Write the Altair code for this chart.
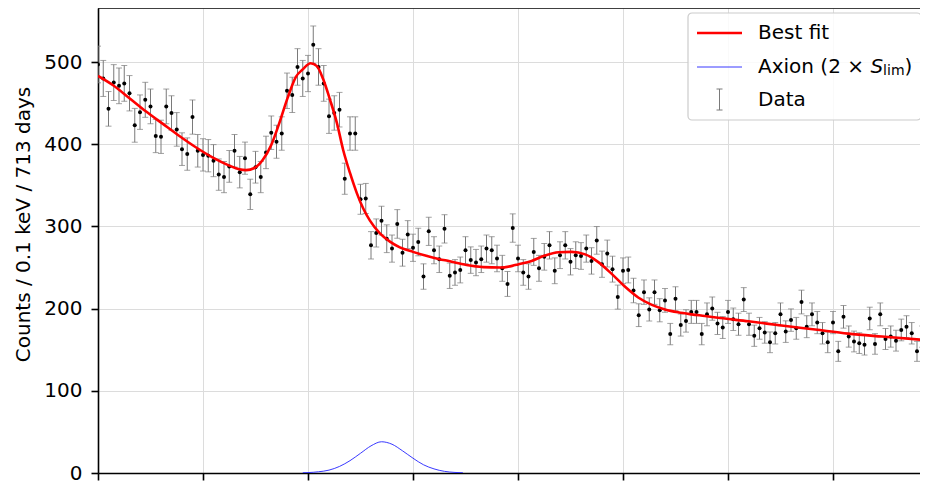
import altair as alt
import pandas as pd

# ---------------- data ----------------
energy_start = 4.0   # keV, first bin centre
bin_width = 0.1      # keV
counts = [
    497, 480, 443, 475, 471, 474, 462, 423, 439, 454,   # 4.0 - 4.9
    446, 410, 409, 446, 438, 418, 394, 388, 433, 392,   # 5.0 - 5.9
    387, 386, 380, 363, 360, 373, 392, 366, 383, 339,   # 6.0 - 6.9
    372, 360, 390, 414, 403, 413, 465, 460, 494, 480,   # 7.0 - 7.9
    486, 521, 494, 474, 434, 438, 442, 358, 413, 413,   # 8.0 - 8.9
    333, 334, 277, 292, 307, 285, 273, 303, 268, 290,   # 9.0 - 9.9
    274, 281, 239, 294, 271, 260, 297, 240, 244, 247,   # 10.0 - 10.9
    271, 259, 256, 260, 273, 271, 261, 249, 230, 298,   # 11.0 - 11.9
    261, 244, 239, 269, 249, 263, 277, 246, 265, 277,   # 12.0 - 12.9
    257, 265, 264, 273, 258, 283, 254, 267, 248, 214,   # 13.0 - 13.9
    246, 247, 222, 192, 220, 199, 220, 198, 210, 169,   # 14.0 - 14.9
    212, 180, 185, 196, 196, 169, 193, 200, 182, 177,   # 15.0 - 15.9
    196, 187, 181, 211, 181, 167, 176, 171, 159, 170,   # 16.0 - 16.9
    193, 172, 186, 176, 208, 178, 193, 183, 170, 159,   # 17.0 - 17.9
    183, 148, 190, 166, 160, 158, 156, 188, 157, 193,   # 18.0 - 18.9
    163, 166, 161, 174, 178, 170, 148, 166, 180,        # 19.0 - 19.8
]

fit_energy = [4.0, 4.28, 4.6, 4.91, 5.23, 5.55, 5.87, 6.18, 6.5, 6.69, 6.82,
              6.98, 7.14, 7.3, 7.45, 7.61, 7.77, 7.9, 8.05, 8.17, 8.29, 8.42,
              8.55, 8.67, 8.8, 8.93, 9.05, 9.18, 9.37, 9.56, 9.75, 10.0, 10.39,
              10.7, 11.02, 11.34, 11.66, 11.89, 12.0, 12.26, 12.51, 12.77,
              13.02, 13.28, 13.53, 13.78, 14.04, 14.29, 14.55, 14.8, 15.05,
              15.31, 15.56, 15.85, 16.39, 17.02, 17.66, 18.29, 18.93, 19.81]
fit_counts = [483, 472, 456, 440, 425, 410, 396, 384, 374, 369.5, 368.5,
              371, 381, 399, 425, 456, 482, 491, 498.5, 495, 479, 454,
              426, 393, 365, 340.5, 322, 307, 291.5, 281.5, 274.5, 269, 262,
              257.5, 253, 250.5, 250, 252, 253.7, 258, 264.5, 268.5,
              269, 266, 256.5, 242.5, 226.5, 213.5, 204.5, 199, 195.5,
              193, 191, 188.5, 184.6, 179.4, 174.5, 169.6, 166, 161.5]

axion_energy = [7.9, 8.0, 8.2, 8.4, 8.6, 8.8, 9.0, 9.2, 9.4, 9.6, 9.8, 10.0,
                10.2, 10.4, 10.6, 10.8, 10.95]
axion_counts = [0.3, 0.5, 1.5, 3.5, 8, 15, 24, 33, 38, 35, 27, 18,
                10, 5, 2, 0.7, 0.3]

y_ticks = [0, 100, 200, 300, 400, 500]
x_ticks = [4, 6, 8, 10, 12, 14, 16, 18]

legend_labels = ["Best fit", "Axion (2 \u00d7", "S", "lim", ")", "Data"]

# ---------------- frames ----------------
energies = [round(energy_start + i * bin_width, 1) for i in range(len(counts))]
data_df = pd.DataFrame({"E": energies, "C": counts})
fit_df = pd.DataFrame({"E": fit_energy, "C": fit_counts})
axion_df = pd.DataFrame({"E": axion_energy, "C": axion_counts})
one = pd.DataFrame({"a": [0]})

W, H = 822, 465
FONT = "DejaVu Sans"
xs = alt.Scale(domain=[4.0, 4.0 + W / 52.5], nice=False, zero=False)
ys = alt.Scale(domain=[0, 565.7], nice=False, zero=False)

x_axis = alt.Axis(values=x_ticks, labels=False, title=None, grid=True,
                  gridColor="#dcdcdc", gridWidth=1, domainColor="black",
                  domainWidth=1.6, tickColor="black", tickWidth=1.6,
                  tickSize=7)
y_axis = alt.Axis(values=y_ticks, grid=True, gridColor="#dcdcdc", gridWidth=1,
                  domainColor="black", domainWidth=1.6, tickColor="black",
                  tickWidth=1.6, tickSize=7, labelFont=FONT, labelFontSize=20,
                  labelColor="black", labelPadding=9,
                  title="Counts / 0.1 keV / 713 days", titleFont=FONT,
                  titleFontSize=20, titleFontWeight="normal",
                  titleColor="black", titleAngle=270, titleAlign="center",
                  titleBaseline="middle", titleX=-75, titleY=216)


def X():
    return alt.X("E:Q", scale=xs, axis=x_axis)


def Y(field):
    return alt.Y(field, scale=ys, axis=y_axis)


base = alt.Chart(data_df).transform_calculate(
    lo="datum.C - sqrt(datum.C)", hi="datum.C + sqrt(datum.C)")

err = base.mark_rule(color="#7a7a7a", strokeWidth=1, clip=True).encode(
    x=X(), y=Y("lo:Q"), y2="hi:Q")
cap_lo = base.mark_tick(color="#7a7a7a", thickness=1, size=6,
                        orient="horizontal", clip=True).encode(
    x=X(), y=Y("lo:Q"))
cap_hi = base.mark_tick(color="#7a7a7a", thickness=1, size=6,
                        orient="horizontal", clip=True).encode(
    x=X(), y=Y("hi:Q"))
pts = base.mark_circle(color="black", size=16, opacity=1, clip=True).encode(
    x=X(), y=Y("C:Q"))

fit = alt.Chart(fit_df).mark_line(color="#ff0000", strokeWidth=2.6,
                                  interpolate="monotone", clip=True).encode(
    x=X(), y=Y("C:Q"))
axion = alt.Chart(axion_df).mark_line(color="#2222ff", strokeWidth=0.9,
                                      interpolate="monotone", clip=True).encode(
    x=X(), y=Y("C:Q"))

# ---------------- frame line on top + legend (plot-pixel positions) -------
lb = alt.Chart(one)
top_spine = lb.mark_rule(color="black", strokeWidth=1.6).encode(
    x=alt.value(0), x2=alt.value(W), y=alt.value(0), y2=alt.value(0))
box = lb.mark_rect(fill="white", fillOpacity=0.85, stroke="#cccccc",
                   strokeWidth=1.2, cornerRadius=4).encode(
    x=alt.value(590), x2=alt.value(823), y=alt.value(5), y2=alt.value(112))
leg_red = lb.mark_rule(color="#ff0000", strokeWidth=2.6).encode(
    x=alt.value(599), x2=alt.value(644), y=alt.value(25), y2=alt.value(25))
leg_blue = lb.mark_rule(color="#2222ff", strokeWidth=0.9).encode(
    x=alt.value(599), x2=alt.value(644), y=alt.value(59), y2=alt.value(59))
leg_err = lb.mark_rule(color="#7a7a7a", strokeWidth=1).encode(
    x=alt.value(621.5), y=alt.value(81), y2=alt.value(102))
leg_cap1 = lb.mark_rule(color="#7a7a7a", strokeWidth=1).encode(
    x=alt.value(618.5), x2=alt.value(624.5), y=alt.value(81), y2=alt.value(81))
leg_cap2 = lb.mark_rule(color="#7a7a7a", strokeWidth=1).encode(
    x=alt.value(618.5), x2=alt.value(624.5), y=alt.value(102), y2=alt.value(102))


def txt(label, x, y, size=20, style="normal"):
    return lb.mark_text(text=label, font=FONT, fontSize=size, fontStyle=style,
                        color="black", align="left",
                        baseline="middle").encode(x=alt.value(x), y=alt.value(y))


t1 = txt(legend_labels[0], 660, 25)
t2 = txt(legend_labels[1], 660, 59)
t3 = txt(legend_labels[2], 772.4, 59, style="italic")
t4 = txt(legend_labels[3], 785.1, 63, size=14)
t5 = txt(legend_labels[4], 806.5, 59)
t6 = txt(legend_labels[5], 660, 92)

chart = alt.layer(
    err, cap_lo, cap_hi, pts, fit, axion, top_spine,
    box, leg_red, leg_blue, leg_err, leg_cap1, leg_cap2,
    t1, t2, t3, t4, t5, t6,
).properties(
    width=W, height=H,
    autosize=alt.AutoSizeParams(type="none"),
    padding={"left": 90, "top": 0, "right": 0, "bottom": 8},
    background="white",
).configure_view(strokeWidth=0)

chart.save("out.html", embed_options={"renderer": "svg", "actions": False})
